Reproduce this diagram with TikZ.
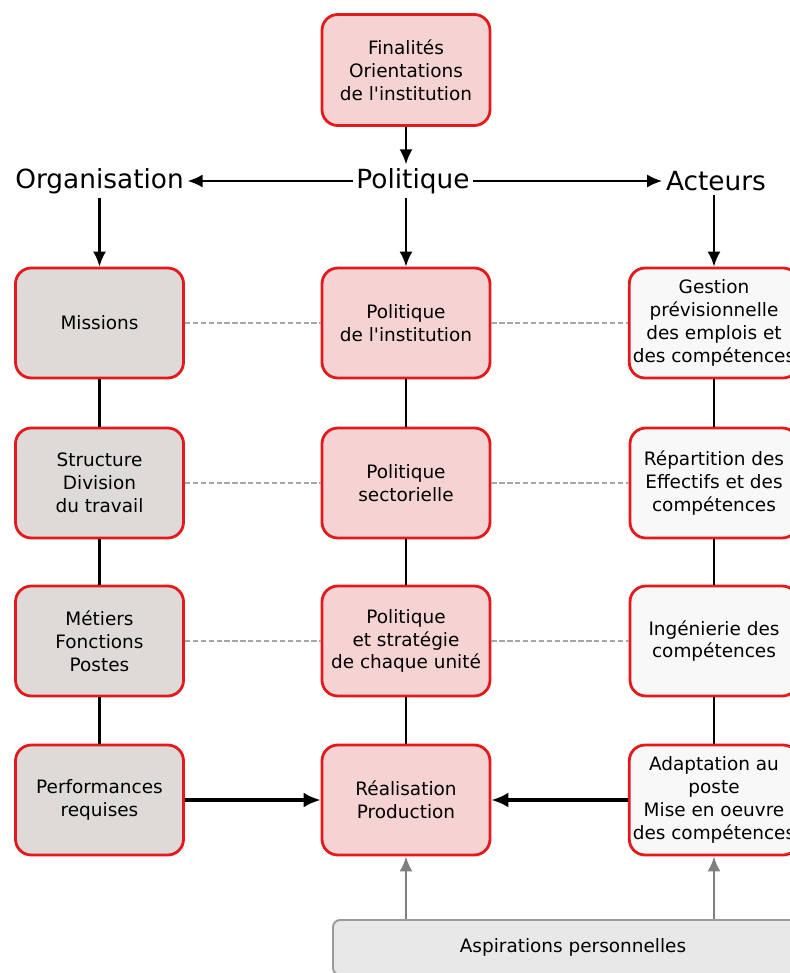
\documentclass[tikz,border=0pt]{standalone}
\usepackage{fontspec}
\setmainfont{DejaVu Sans}
\usetikzlibrary{arrows.meta}
\definecolor{boxred}{HTML}{E3191C}
\definecolor{polfill}{HTML}{F6D3D3}
\definecolor{orgfill}{HTML}{DEDAD7}
\definecolor{actfill}{HTML}{F8F8F8}
\definecolor{aspfill}{HTML}{E8E8E8}
\definecolor{aspdraw}{HTML}{9A9A9A}
\begin{document}
\begin{tikzpicture}[
    box/.style={draw=boxred, line width=1.6pt, rounded corners=9pt, minimum width=3.36cm,
        minimum height=2.2cm, align=center, inner sep=2pt, font=\fontsize{10.5}{13}\selectfont},
    orgbox/.style={box, fill=orgfill},
    polbox/.style={box, fill=polfill},
    actbox/.style={box, fill=actfill},
    head/.style={font=\fontsize{15}{17}\selectfont, inner sep=2pt},
    link/.style={line width=1.2pt},
    arr/.style={-{Latex[length=3mm,width=2.6mm]}, line width=1.3pt},
    bigarr/.style={-{Latex[length=3.4mm,width=3mm]}, line width=1.8pt},
    dashlink/.style={gray!70, dash pattern=on 3pt off 1.5pt, line width=1.1pt},
    asparr/.style={-{Latex[length=3mm,width=2.6mm]}, gray, line width=1.3pt}
]
    \useasboundingbox (0,0) rectangle (15.8,-19.46);

    % top
    \node[polbox, minimum height=2.22cm] (fin) at (8.12,-1.4) {Finalités\\Orientations\\de l\textquotesingle institution};
    \node[head] (pol) at (8.26,-3.62) {Politique};
    \node[head] (org) at (1.99,-3.62) {Organisation};
    \node[head] (act) at (14.32,-3.62) {Acteurs};

    % columns
    \node[orgbox] (mis) at (1.99,-6.46) {Missions};
    \node[orgbox] (str) at (1.99,-9.66) {Structure\\Division\\du travail};
    \node[orgbox] (met) at (1.99,-12.82) {Métiers\\Fonctions\\Postes};
    \node[orgbox] (perf) at (1.99,-16.0) {Performances\\requises};

    \node[polbox] (pinst) at (8.12,-6.46) {Politique\\de l\textquotesingle institution};
    \node[polbox] (psect) at (8.12,-9.66) {Politique\\sectorielle};
    \node[polbox] (punit) at (8.12,-12.82) {Politique\\et stratégie\\de chaque unité};
    \node[polbox] (real) at (8.12,-16.0) {Réalisation\\Production};

    \node[actbox] (gest) at (14.28,-6.46) {Gestion\\prévisionnelle\\des emplois et\\des compétences};
    \node[actbox] (rep) at (14.28,-9.66) {Répartition des\\Effectifs et des\\compétences};
    \node[actbox] (ing) at (14.28,-12.82) {Ingénierie des\\compétences};
    \node[actbox] (adap) at (14.28,-16.0) {Adaptation au\\poste\\Mise en oeuvre\\des compétences};

    \node[draw=aspdraw, fill=aspfill, line width=1.1pt, rounded corners=4pt, minimum width=9.6cm,
        minimum height=1.1cm, font=\fontsize{10.5}{13}\selectfont] (asp) at (11.46,-18.95) {Aspirations personnelles};

    % arrows
    \draw[arr] (fin) -- (fin |- pol.north);
    \draw[arr] (pol) -- (org);
    \draw[arr] (pol) -- (act);
    \draw[arr] (org.south -| mis) -- (mis);
    \draw[arr] (pol.south -| pinst) -- (pinst);
    \draw[arr] (act.south -| gest) -- (gest);

    \draw[link] (mis) -- (str) (str) -- (met) (met) -- (perf);
    \draw[link] (pinst) -- (psect) (psect) -- (punit) (punit) -- (real);
    \draw[link] (gest) -- (rep) (rep) -- (ing) (ing) -- (adap);

    \draw[dashlink] (mis) -- (pinst) (pinst) -- (gest);
    \draw[dashlink] (str) -- (psect) (psect) -- (rep);
    \draw[dashlink] (met) -- (punit) (punit) -- (ing);

    \draw[bigarr] (perf) -- (real);
    \draw[bigarr] (adap) -- (real);

    \draw[asparr] (asp.north -| real) -- (real);
    \draw[asparr] (asp.north -| adap) -- (adap);
\end{tikzpicture}
\end{document}
